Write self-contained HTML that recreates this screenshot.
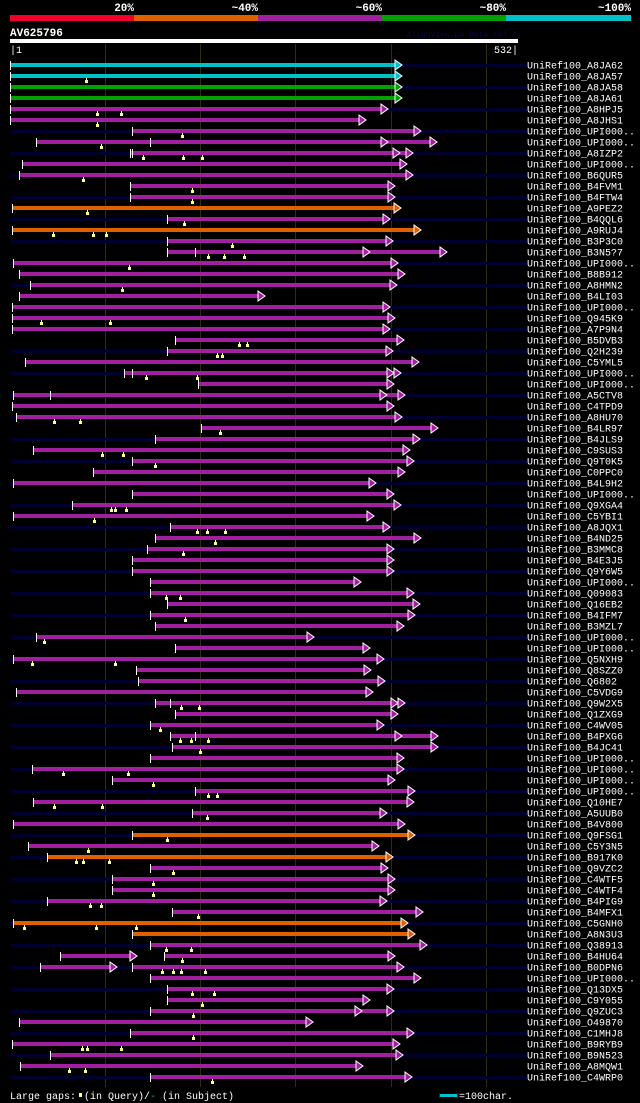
<!DOCTYPE html>
<html><head><meta charset="utf-8"><style>
html,body{margin:0;padding:0;background:#000;}
svg{display:block;}
text{font-family:"Liberation Mono",monospace;}
rect{shape-rendering:crispEdges;}
</style></head><body>
<svg id="chart" width="640" height="1103" viewBox="0 0 640 1103" xmlns="http://www.w3.org/2000/svg">
<rect x="0" y="0" width="640" height="1103" fill="#000"/>
<g id="header">
  <rect x="10" y="15" width="124" height="6" fill="#f0002a"/>
  <rect x="134" y="15" width="124" height="6" fill="#e06000"/>
  <rect x="258" y="15" width="124" height="6" fill="#a020a0"/>
  <rect x="382" y="15" width="124" height="6" fill="#00a000"/>
  <rect x="506" y="15" width="125" height="6" fill="#00c0c8"/>
  <text x="134" y="11" text-anchor="end" font-size="11" font-weight="bold" fill="#fff">20%</text>
  <text x="258" y="11" text-anchor="end" font-size="11" font-weight="bold" fill="#fff">~40%</text>
  <text x="382" y="11" text-anchor="end" font-size="11" font-weight="bold" fill="#fff">~60%</text>
  <text x="506" y="11" text-anchor="end" font-size="11" font-weight="bold" fill="#fff">~80%</text>
  <text x="631" y="11" text-anchor="end" font-size="11" font-weight="bold" fill="#fff">~100%</text>
</g>
<text x="10" y="36" font-size="11" font-weight="bold" fill="#fff">AV625796</text>
<text x="517" y="37" text-anchor="end" font-size="8" fill="#0a0a40">AlignView.pm Beta rel.7</text>
<rect x="10" y="39" width="508" height="4" fill="#fff"/>
<text x="10" y="53" font-size="10" fill="#fff">|1</text>
<text x="518" y="53" text-anchor="end" font-size="10" fill="#fff">532|</text>
<g id="grid"></g>
<g id="rows"></g>
<text x="10" y="1099" font-size="10" fill="#fff">Large gaps:</text>
<rect x="79" y="1093" width="3" height="4" fill="#ffff80"/>
<text x="84" y="1099" font-size="10" fill="#fff">(in Query)/</text>
<text x="150" y="1099" font-size="10" fill="#00c0c8">-</text>
<text x="162" y="1099" font-size="10" fill="#fff">(in Subject)</text>
<rect x="439" y="1093" width="1" height="5" fill="#333300"/>
<rect x="440" y="1094" width="17" height="3" fill="#00c0c8"/>
<rect x="457" y="1093" width="1" height="5" fill="#333300"/>
<text x="459" y="1099" font-size="10" fill="#fff">=100char.</text>
</svg>
<script>
const names = ["A8JA62","A8JA57","A8JA58","A8JA61","A8HPJ5","A8JHS1","UPI000..","UPI000..","A8IZP2","UPI000..","B6QUR5","B4FVM1","B4FTW4","A9PEZ2","B4QQL6","A9RUJ4","B3P3C0","B3N5?7","UPI000..","B8B912","A8HMN2","B4LI03","UPI000..","Q945K9","A7P9N4","B5DVB3","Q2H239","C5YML5","UPI000..","UPI000..","A5CTV8","C4TPD9","A8HU70","B4LR97","B4JLS9","C9SUS3","Q9T0K5","C0PPC0","B4L9H2","UPI000..","Q9XGA4","C5YBI1","A8JQX1","B4ND25","B3MMC8","B4E3J5","Q9Y6W5","UPI000..","Q09083","Q16EB2","B4IFM7","B3MZL7","UPI000..","UPI000..","Q5NXH9","Q8SZZ0","Q6802","C5VDG9","Q9W2X5","Q1ZXG9","C4WV05","B4PXG6","B4JC41","UPI000..","UPI000..","UPI000..","UPI000..","Q10HE7","A5UUB0","B4V800","Q9FSG1","C5Y3N5","B917K0","Q9VZC2","C4WTF5","C4WTF4","B4PIG9","B4MFX1","C5GNH0","A8N3U3","Q38913","B4HU64","B0DPN6","UPI000..","Q13DX5","C9Y055","Q9ZUC3","O49870","C1MHJ8","B9RYB9","B9N523","A8MQW1","C4WRP0"];
const starts = [1,1,1,1,1,1,129,28,127,14,10,127,127,3,165,3,165,165,4,10,22,10,3,3,3,174,165,17,120,198,4,3,7,201,153,25,129,88,4,129,66,4,169,153,144,129,129,148,148,165,148,153,28,174,4,133,135,7,153,174,148,169,171,148,24,108,195,25,192,4,129,20,40,148,108,108,40,171,4,129,148,162,129,148,165,165,148,10,127,3,43,11,148];
const ends = [412,412,412,412,397,374,431,397,409,417,423,404,404,411,399,431,402,378,407,415,406,268,399,404,399,414,402,429,403,403,396,403,412,449,430,420,424,415,384,403,411,382,399,431,403,403,403,369,424,430,425,414,319,378,393,379,394,381,407,407,393,412,449,414,414,404,425,424,396,415,425,387,402,397,404,404,396,434,418,425,438,404,414,431,403,378,403,318,424,409,413,371,422];
const identity = ["c","c","g","g","p","p","p","p","p","p","p","p","p","o","p","o","p","p","p","p","p","p","p","p","p","p","p","p","p","p","p","p","p","p","p","p","p","p","p","p","p","p","p","p","p","p","p","p","p","p","p","p","p","p","p","p","p","p","p","p","p","p","p","p","p","p","p","p","p","p","o","p","o","p","p","p","p","p","o","o","p","p","p","p","p","p","p","p","p","p","p","p","p"];
const secondHits = {8:[148,448],9:[129,423],18:[195,459],29:[129,411],31:[43,415],59:[169,415],62:[195,449],82:[53,134],83:[32,113],87:[148,370]};
const gapMarkers = {2:[81],5:[92,117],6:[92],7:[181],8:[96],9:[140,182,202],11:[77],12:[192],13:[192],14:[82],15:[183],16:[46,88,102],17:[234],18:[208,225,246],19:[126],21:[118],24:[33,106],26:[241,249],27:[218,223],29:[143,197],33:[47,74],34:[221],36:[97,119],37:[153],41:[107,111,122],42:[89],43:[197,207,226],44:[216],45:[182],49:[164,179],51:[184],53:[37],55:[24,111],59:[180,199],61:[158],62:[179,191,208],63:[200],65:[56,125],66:[151],67:[208,218],68:[47,97],69:[207],71:[165],72:[83],73:[70,77,105],74:[172],75:[151],76:[151],77:[85,96],78:[198],79:[16,91,133],81:[164,191],82:[181],83:[160,172,180,205],85:[192,215],86:[202],87:[193],89:[193],90:[76,82,117],92:[63,80],93:[213]};
const gridPositions = [101,200,300,400,500];

const palette = {c:"#00c0c8",g:"#00a000",p:"#a020a0",o:"#e06000"};
const NS = "http://www.w3.org/2000/svg";
function xPos(p){ return Math.round(10 + (p-1)*(507/531)); }
function yRow(i){ return 65 + i*11; }
function mk(tag, attrs){ const e=document.createElementNS(NS,tag); for(const k in attrs) e.setAttribute(k,attrs[k]); return e; }

const grid = document.getElementById('grid');
gridPositions.forEach(p=>{
  const l = mk('rect',{x:xPos(p),y:44,width:1,height:1043,fill:"#2e2e08"});
  
  
  grid.appendChild(l);
});

const rows = document.getElementById('rows');
function arrow(g, tip, y, col){
  const t = mk('polygon',{points:(tip-7)+","+(y-5)+" "+tip+","+y+" "+(tip-7)+","+(y+5),fill:col,stroke:"#fff","stroke-width":1});
  
  
  g.appendChild(t);
}
function tick(g, x, y){
  const t = mk('rect',{x:x,y:y-4,width:1,height:9,fill:"#fff"});
  
  
  g.appendChild(t);
}
names.forEach((n,i)=>{
  const y = yRow(i);
  const col = palette[identity[i]];
  const g = mk('g',{});
  
  
  if(i%2===0){
    const bg = mk('rect',{x:10,y:y-1,width:517,height:3,fill:"#00002e"});
    
    
    g.appendChild(bg);
  }
  const hits = [[starts[i],ends[i]]];
  if(secondHits[i+1]) hits.push(secondHits[i+1]);
  let lo = Math.min(...hits.map(h=>h[0])), hi = Math.max(...hits.map(h=>h[1]));
  const separate = hits.length>1 && (hits[1][1] < hits[0][0] || hits[1][0] > hits[0][1]);
  const spans = separate ? hits : [[lo,hi]];
  spans.forEach(s=>{
    const x0 = xPos(s[0]), x1 = xPos(s[1]) - 7;
    const b = mk('rect',{x:x0,y:y-2,width:Math.max(0,x1-x0),height:4,fill:col});
    
    
    g.appendChild(b);
  });
  hits.forEach(h=>{ tick(g, xPos(h[0]), y); arrow(g, xPos(h[1]), y, col); });
  (gapMarkers[i+1]||[]).forEach(p=>{
    const m = mk('rect',{x:xPos(p)-1,y:y+4,width:3,height:3,fill:"#ffff80"});
    
    
    g.appendChild(m);
    const s = mk('rect',{x:xPos(p),y:y+2,width:1,height:2,fill:"#ffff80"});
    
    
    g.appendChild(s);
  });
  const t = mk('text',{x:527,y:y+3.5,"font-size":10,fill:"#fff"});
  t.textContent = "UniRef100_" + n;
  
  
  g.appendChild(t);
  rows.appendChild(g);
});
</script>
</body></html>
